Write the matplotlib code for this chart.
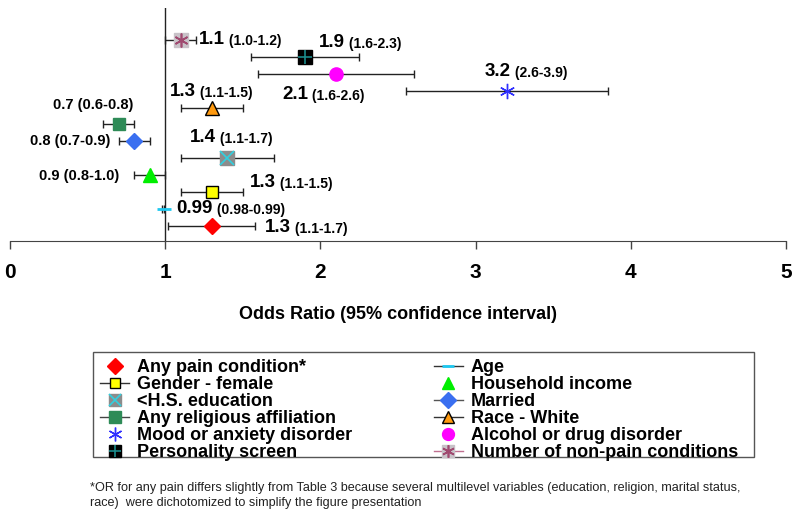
import matplotlib
matplotlib.use("Agg")
import matplotlib.pyplot as plt
from matplotlib.lines import Line2D
from matplotlib.patches import Rectangle
from matplotlib.legend_handler import HandlerTuple

plt.rcParams['font.family'] = ['Liberation Sans', 'DejaVu Sans']

# rows from top to bottom
names = ["Number of non-pain conditions", "Personality screen", "Alcohol or drug disorder",
         "Mood or anxiety disorder", "Race - White", "Any religious affiliation", "Married",
         "<H.S. education", "Household income", "Gender - female", "Age", "Any pain condition*"]
odds = [1.1, 1.9, 2.1, 3.2, 1.3, 0.7, 0.8, 1.4, 0.9, 1.3, 0.99, 1.3]
ci_low = [1.0, 1.55, 1.6, 2.55, 1.1, 0.6, 0.7, 1.1, 0.8, 1.1, 0.98, 1.02]
ci_high = [1.2, 2.25, 2.6, 3.85, 1.5, 0.8, 0.9, 1.7, 1.0, 1.5, 0.99, 1.58]
or_text = ["1.1", "1.9", "2.1", "3.2", "1.3", "0.7", "0.8", "1.4", "0.9", "1.3", "0.99", "1.3"]
ci_text = ["(1.0-1.2)", "(1.6-2.3)", "(1.6-2.6)", "(2.6-3.9)", "(1.1-1.5)", "(0.6-0.8)",
           "(0.7-0.9)", "(1.1-1.7)", "(0.8-1.0)", "(1.1-1.5)", "(0.98-0.99)", "(1.1-1.7)"]
rows = list(range(len(names), 0, -1))
xticks = [0, 1, 2, 3, 4, 5]

# marker styles: (marker, face, edge, size, overlay marker, overlay colour, legend line colour)
styles = {
    "Any pain condition*": ("D", "#ff0000", "#ff0000", 8.5, None, None, None),
    "Age": ("_", "#1ec8f0", "#1ec8f0", 10, None, None, "#333333"),
    "Gender - female": ("s", "#ffff00", "#000000", 8.5, None, None, "#333333"),
    "Household income": ("^", "#00ee00", "#00ee00", 10, None, None, None),
    "<H.S. education": ("s", "#8c8c8c", "#8c8c8c", 9.5, "x", "#30d0e0", None),
    "Married": ("D", "#3a6ff0", "#3a6ff0", 8.5, None, None, "#555555"),
    "Any religious affiliation": ("s", "#2e8b57", "#2e8b57", 9, None, None, "#444444"),
    "Race - White": ("^", "#ff9a10", "#000000", 10, None, None, "#333333"),
    "Mood or anxiety disorder": ((6, 2, 0), "#3030ff", "#3030ff", 11, None, None, None),
    "Alcohol or drug disorder": ("o", "#ff00ff", "#ff00ff", 9.5, None, None, None),
    "Personality screen": ("s", "#000000", "#000000", 10, "+", "#1a8a8a", None),
    "Number of non-pain conditions": ("s", "#c8c2c8", "#c8c2c8", 10, (6, 2, 0), "#a04a70", "#c07090"),
}

# label placement in pixels relative to the marker: dx, dy (up), kind
label_pos = [(18, 1, "big"), (14, 14, "big"), (-54, -21, "big"), (-22, 19, "big"),
             (-42, 16, "big"), (-66, 19, "small"), (-24, 0, "right"), (-37, 21, "big"),
             (-30, -1, "right"), (38, 9, "big"), (13, 0, "big"), (53, -2, "big")]

fig = plt.figure(figsize=(8, 5.16), dpi=100)
ax = fig.add_axes([10 / 800, (516 - 241) / 516, 776 / 800, 233 / 516])

ax.axvline(1, color="#222222", lw=1, zorder=1)
for i, name in enumerate(names):
    mk, fc, ec, ms, ov, oc, lc = styles[name]
    ax.errorbar(odds[i], rows[i], xerr=[[odds[i] - ci_low[i]], [ci_high[i] - odds[i]]],
                fmt="none", ecolor="#222222", elinewidth=1, capsize=3, capthick=1, zorder=2)
    mew = 2 if mk == "_" else 1
    ax.plot(odds[i], rows[i], marker=mk, ms=ms, mfc=fc, mec=ec, mew=mew, ls="none", zorder=3)
    if ov is not None:
        ax.plot(odds[i], rows[i], marker=ov, ms=ms, color=oc, mew=1.2, ls="none", zorder=4)

    dx, dy, kind = label_pos[i]
    off = (dx * 0.72, dy * 0.72)
    if kind == "big":
        t = ax.annotate(or_text[i], (odds[i], rows[i]), xytext=off, textcoords="offset points",
                        ha="left", va="center", fontsize=13.5, weight="bold")
        ax.annotate(" " + ci_text[i], xy=(1, 0), xycoords=t, ha="left", va="bottom",
                    fontsize=10, weight="bold")
    else:
        ax.annotate(or_text[i] + " " + ci_text[i], (odds[i], rows[i]), xytext=off,
                    textcoords="offset points", ha="left" if kind == "small" else "right",
                    va="center", fontsize=10.5, weight="bold")

ax.set_xlim(0, 5)
ax.set_ylim(0.094, 13.9)
for s in ["top", "left", "right"]:
    ax.spines[s].set_visible(False)
ax.spines["bottom"].set_color("#444444")
ax.set_yticks([])
ax.set_xticks(xticks)
ax.tick_params(axis="x", direction="out", length=6, width=1, color="#444444",
               labelsize=15, pad=10)
for lab in ax.get_xticklabels():
    lab.set_fontweight("bold")
ax.set_xlabel("Odds Ratio (95% confidence interval)", fontsize=13, weight="bold", labelpad=17)

# legend, filled column by column
order = ["Any pain condition*", "Gender - female", "<H.S. education", "Any religious affiliation",
         "Mood or anxiety disorder", "Personality screen", "Age", "Household income", "Married",
         "Race - White", "Alcohol or drug disorder", "Number of non-pain conditions"]
handles = []
for name in order:
    mk, fc, ec, ms, ov, oc, lc = styles[name]
    mew = 2 if mk == "_" else 1
    base = Line2D([], [], color=lc if lc else "none", lw=1, marker=mk, ms=ms * 0.9,
                  mfc=fc, mec=ec, mew=mew)
    if ov is not None:
        top = Line2D([], [], ls="none", marker=ov, ms=ms * 0.9, color=oc, mew=1.2)
        handles.append((base, top))
    else:
        handles.append(base)

leg = fig.legend(handles, order, loc="upper left", bbox_to_anchor=(93 / 800, (516 - 352) / 516),
                 ncol=2, prop={"weight": "bold", "size": 13}, borderaxespad=0,
                 handlelength=1.6, handletextpad=0.45, columnspacing=4.5, labelspacing=0.0,
                 borderpad=0.4, frameon=False,
                 handler_map={tuple: HandlerTuple(ndivide=1)})

# legend box is a bit shorter than its content, as in the original figure
fig.patches.append(Rectangle((93 / 800, (516 - 457) / 516), 661 / 800, 105 / 516,
                             transform=fig.transFigure, fill=False, edgecolor="#555555",
                             lw=1, zorder=5))

fig.text(90 / 800, (516 - 482) / 516,
         "*OR for any pain differs slightly from Table 3 because several multilevel variables "
         "(education, religion, marital status,\nrace)  were dichotomized to simplify the "
         "figure presentation", fontsize=9.1, va="top", ha="left", color="#222222",
         linespacing=1.3)

fig.savefig("out.png", dpi=100)
